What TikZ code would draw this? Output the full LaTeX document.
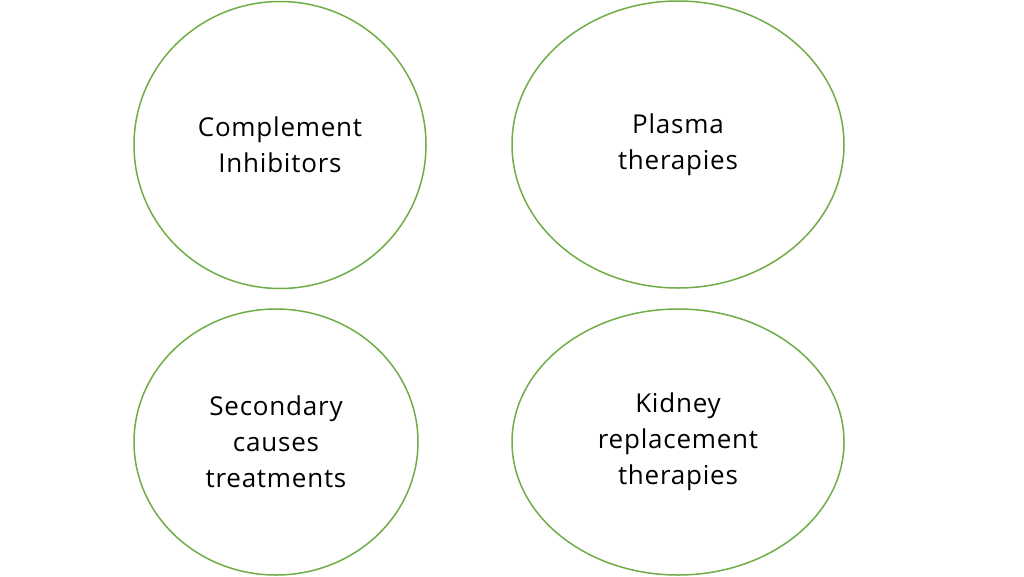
\documentclass[tikz,border=0pt]{standalone}
\usepackage{fontspec}
\setmainfont{Open Sans}[LetterSpace=3]
\usetikzlibrary{shapes.geometric}
\definecolor{ringgreen}{RGB}{112,173,71}
\begin{document}
\begin{tikzpicture}[x=1pt,y=-1pt,
  ring/.style={ellipse, draw=ringgreen, line width=1.5pt, inner sep=0pt, align=center,
    font=\fontsize{26}{36}\selectfont, text=black}]
\useasboundingbox[fill=white] (0,0) rectangle (1024,576);
\node[ring, minimum width=292pt, minimum height=287pt] (ci) at (280,145) {Complement\\Inhibitors};
\node[ring, minimum width=332pt, minimum height=287pt] (pt) at (678,144.5) {Plasma\\therapies};
\node[ring, minimum width=284pt, minimum height=266pt] (sc) at (276,442) {Secondary\\causes\\treatments};
\node[ring, minimum width=332pt, minimum height=266pt] (kr) at (678,442) {Kidney\\replacement\\therapies};
\end{tikzpicture}
\end{document}
